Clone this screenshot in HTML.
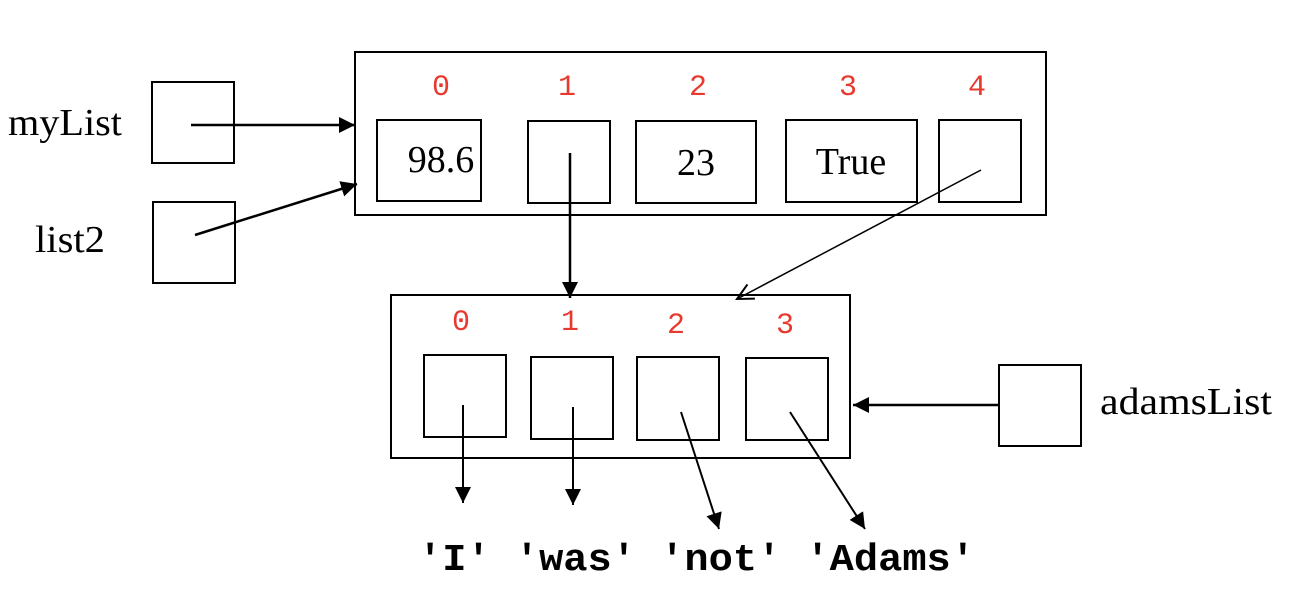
<!DOCTYPE html>
<html><head><meta charset="utf-8"><style>body{margin:0;background:#fff}svg{display:block}</style></head>
<body>
<svg width="1314" height="616" viewBox="0 0 1314 616" xmlns="http://www.w3.org/2000/svg">
<defs>
<marker id="b" markerWidth="18" markerHeight="16" refX="16" refY="8" orient="auto" markerUnits="userSpaceOnUse">
<path d="M0,0 L16,8 L0,16 z" fill="#000"/></marker>
<marker id="o" markerWidth="20" markerHeight="18" refX="18" refY="9" orient="auto" markerUnits="userSpaceOnUse">
<path d="M2,1 L18,9 L2,17" fill="none" stroke="#000" stroke-width="2"/></marker>
</defs>
<g fill="none" stroke="#000" stroke-width="2">
<rect x="355" y="52" width="691" height="163"/>
<rect x="377" y="120" width="104" height="81"/>
<rect x="528" y="121" width="82" height="82"/>
<rect x="636" y="121" width="120" height="82"/>
<rect x="786" y="120" width="131" height="82"/>
<rect x="939" y="120" width="82" height="82"/>
<rect x="152" y="82" width="82" height="81"/>
<rect x="153" y="202" width="82" height="81"/>
<rect x="391" y="295" width="459" height="163"/>
<rect x="424" y="355" width="82" height="82"/>
<rect x="531" y="357" width="82" height="82"/>
<rect x="637" y="357" width="82" height="83"/>
<rect x="746" y="358" width="82" height="82"/>
<rect x="999" y="365" width="82" height="81"/>
</g>
<g stroke="#000" stroke-width="2.5" fill="none">
<line x1="191" y1="125" x2="355" y2="125" marker-end="url(#b)"/>
<line x1="195" y1="235" x2="357" y2="184" marker-end="url(#b)"/>
<line x1="570" y1="153" x2="570" y2="298" marker-end="url(#b)"/>
<line x1="981" y1="170" x2="737" y2="299" stroke-width="1.5" marker-end="url(#o)"/>
<line x1="463" y1="405" x2="463" y2="503" stroke-width="2" marker-end="url(#b)"/>
<line x1="573" y1="407" x2="573" y2="505" stroke-width="2" marker-end="url(#b)"/>
<line x1="681" y1="412" x2="719" y2="529" stroke-width="2" marker-end="url(#b)"/>
<line x1="790" y1="412" x2="865" y2="529" stroke-width="2" marker-end="url(#b)"/>
<line x1="999" y1="405" x2="853" y2="405" marker-end="url(#b)"/>
</g>
<g font-family="Liberation Mono, monospace" font-size="30" fill="#e8392e" text-anchor="middle">
<text x="441" y="95">0</text><text x="567" y="95">1</text><text x="698" y="95">2</text><text x="848" y="95">3</text><text x="977" y="95">4</text>
<text x="461" y="330">0</text><text x="570" y="330">1</text><text x="676" y="333">2</text><text x="785" y="333">3</text>
</g>
<g font-family="Liberation Serif, serif" font-size="38" fill="#000">
<text x="8" y="135" textLength="114" lengthAdjust="spacingAndGlyphs">myList</text>
<text x="35" y="252" textLength="70" lengthAdjust="spacingAndGlyphs">list2</text>
<text x="1100" y="414" textLength="172" lengthAdjust="spacingAndGlyphs">adamsList</text>
<text x="441" y="172" text-anchor="middle" font-size="38">98.6</text>
<text x="696" y="175" text-anchor="middle">23</text>
<text x="851" y="174" text-anchor="middle">True</text>
</g>
<text x="418" y="570" font-family="Liberation Mono, monospace" font-weight="bold" font-size="38" textLength="557" lengthAdjust="spacingAndGlyphs" xml:space="preserve">'I' 'was' 'not' 'Adams'</text>
</svg>
</body></html>
